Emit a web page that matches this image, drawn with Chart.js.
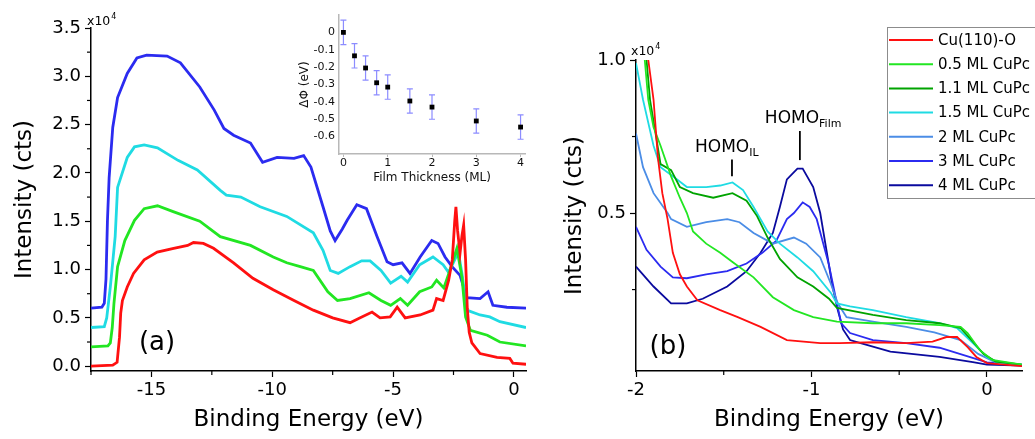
<!DOCTYPE html>
<html>
<head>
<meta charset="utf-8">
<script src="https://cdn.jsdelivr.net/npm/chart.js@4.4.0/dist/chart.umd.min.js"></script>
<style>
  body { margin: 0; background: #fff; }
  #wrap { position: relative; width: 1035px; height: 439px; overflow: hidden; }
  canvas { position: absolute; top: 0; }
  #chartA { left: 0; }
  #chartB { left: 530px; }
  #inset { left: 290px; }
</style>
</head>
<body>
<div id="wrap">
  <canvas id="chartA" width="530" height="439"></canvas>
  <canvas id="chartB" width="505" height="439"></canvas>
  <canvas id="inset" width="245" height="195"></canvas>
</div>
<script>
// panel (a): binding energy (eV) vs intensity (x10^4 cts), curves offset as in the figure
const aRedE = [-17.5, -16.6, -16.42, -16.32, -16.27, -16.2, -16.0, -15.74, -15.3, -14.76, -14.08, -13.5, -13.26, -12.85, -12.43, -11.6, -10.8, -9.96, -9.1, -8.3, -7.5, -6.78, -6.36, -5.87, -5.54, -5.12, -4.83, -4.5, -3.88, -3.35, -3.2, -2.93, -2.7, -2.55, -2.45, -2.4, -2.33, -2.23, -2.15, -2.08, -2.0, -1.93, -1.85, -1.74, -1.4, -0.7, -0.17, -0.04, 0.5];
const aRedI = [0, 0.01, 0.04, 0.3, 0.55, 0.68, 0.82, 0.96, 1.10, 1.18, 1.22, 1.25, 1.28, 1.27, 1.22, 1.07, 0.91, 0.79, 0.68, 0.58, 0.50, 0.45, 0.50, 0.56, 0.50, 0.51, 0.61, 0.50, 0.53, 0.58, 0.70, 0.68, 0.89, 1.10, 1.50, 1.65, 1.40, 1.17, 1.35, 1.46, 1.10, 0.60, 0.35, 0.24, 0.13, 0.09, 0.08, 0.03, 0.02];
const aGreenE = [-17.5, -16.8, -16.7, -16.62, -16.55, -16.4, -16.1, -15.7, -15.3, -14.75, -14.1, -13.0, -12.15, -10.9, -9.96, -9.4, -8.84, -8.3, -7.7, -7.3, -6.78, -6.0, -5.5, -5.1, -4.7, -4.4, -3.9, -3.4, -3.2, -2.9, -2.65, -2.36, -2.15, -2.0, -1.8, -1.1, -0.58, 0.5];
const aGreenI = [0.2, 0.21, 0.24, 0.4, 0.65, 1.03, 1.3, 1.51, 1.63, 1.66, 1.6, 1.5, 1.34, 1.25, 1.13, 1.07, 1.03, 0.99, 0.77, 0.68, 0.70, 0.76, 0.68, 0.63, 0.70, 0.63, 0.77, 0.82, 0.89, 0.81, 0.99, 1.22, 0.92, 0.51, 0.37, 0.32, 0.25, 0.21];
const aCyanE = [-17.5, -16.95, -16.85, -16.7, -16.5, -16.4, -16.0, -15.7, -15.3, -14.75, -13.9, -13.1, -12.15, -11.9, -11.3, -10.5, -9.4, -8.3, -7.9, -7.6, -7.27, -6.78, -6.3, -5.95, -5.5, -5.1, -4.67, -4.4, -3.9, -3.35, -2.93, -2.7, -2.3, -2.15, -1.95, -1.4, -1.0, -0.58, 0.5];
const aCyanI = [0.4, 0.41, 0.5, 0.82, 1.34, 1.85, 2.16, 2.27, 2.29, 2.26, 2.13, 2.03, 1.82, 1.77, 1.75, 1.65, 1.55, 1.38, 1.2, 0.99, 0.96, 1.03, 1.09, 1.09, 0.99, 0.86, 0.93, 0.87, 1.05, 1.13, 1.05, 0.97, 1.18, 0.96, 0.58, 0.53, 0.51, 0.46, 0.40];
const aBlueE = [-17.5, -17.05, -16.95, -16.88, -16.82, -16.75, -16.6, -16.4, -16.0, -15.6, -15.2, -14.35, -13.8, -13.0, -12.4, -12.0, -11.6, -10.9, -10.4, -9.8, -9.1, -8.7, -8.4, -7.9, -7.6, -7.4, -7.1, -6.9, -6.5, -6.1, -5.66, -5.25, -5.0, -4.63, -4.3, -3.88, -3.4, -3.14, -2.85, -2.56, -2.23, -1.95, -1.4, -1.07, -0.87, -0.29, 0.5];
const aBlueI = [0.6, 0.61, 0.65, 0.9, 1.5, 1.95, 2.47, 2.78, 3.03, 3.19, 3.22, 3.21, 3.14, 2.89, 2.65, 2.46, 2.39, 2.31, 2.11, 2.16, 2.15, 2.18, 2.06, 1.65, 1.40, 1.30, 1.42, 1.51, 1.67, 1.63, 1.34, 1.08, 1.05, 1.07, 0.96, 1.13, 1.30, 1.27, 1.13, 1.03, 0.94, 0.71, 0.70, 0.77, 0.63, 0.61, 0.60];

const aTicksX = [-15, -10, -5, 0];
const aMinorX = [-17.5, -12.5, -7.5, -2.5];
const aTicksY = [0, 0.5, 1.0, 1.5, 2.0, 2.5, 3.0, 3.5];
const aMinorY = [0.25, 0.75, 1.25, 1.75, 2.25, 2.75, 3.25];

// inset: work function change vs film thickness
const insetX = [0, 0.25, 0.5, 0.75, 1, 1.5, 2, 3, 4];
const insetY = [0, -0.135, -0.205, -0.29, -0.315, -0.395, -0.43, -0.51, -0.545];
const insetErr = [0.07, 0.07, 0.07, 0.07, 0.07, 0.07, 0.07, 0.07, 0.07];
const insetTicksX = [0, 1, 2, 3, 4];
const insetTicksY = [0, -0.1, -0.2, -0.3, -0.4, -0.5, -0.6];

// panel (b): near the Fermi level
const bLabels = ['Cu(110)-O', '0.5 ML CuPc', '1.1 ML CuPc', '1.5 ML CuPc', '2 ML CuPc', '3 ML CuPc', '4 ML CuPc'];
const bRedE = [-2.0, -1.93, -1.9, -1.875, -1.85, -1.82, -1.79, -1.75, -1.71, -1.65, -1.52, -1.42, -1.29, -1.14, -0.95, -0.84, -0.65, -0.46, -0.31, -0.23, -0.17, -0.11, -0.06, 0.0, 0.2];
const bRedI = [1.3, 1.0, 0.87, 0.68, 0.565, 0.48, 0.37, 0.30, 0.26, 0.215, 0.183, 0.16, 0.128, 0.085, 0.075, 0.075, 0.078, 0.075, 0.08, 0.095, 0.095, 0.062, 0.03, 0.01, 0.0];
const bG05E = [-2.0, -1.95, -1.93, -1.9, -1.86, -1.8, -1.75, -1.71, -1.675, -1.6, -1.52, -1.45, -1.33, -1.22, -1.1, -0.99, -0.855, -0.65, -0.46, -0.27, -0.15, -0.11, -0.04, 0.03, 0.2];
const bG05I = [1.3, 1.0, 0.87, 0.78, 0.72, 0.62, 0.55, 0.5, 0.44, 0.40, 0.37, 0.34, 0.29, 0.225, 0.183, 0.16, 0.145, 0.14, 0.14, 0.134, 0.128, 0.108, 0.052, 0.02, 0.005];
const bG11E = [-2.0, -1.94, -1.92, -1.88, -1.86, -1.8, -1.75, -1.675, -1.56, -1.45, -1.37, -1.31, -1.25, -1.18, -1.08, -0.99, -0.9, -0.855, -0.65, -0.46, -0.27, -0.15, -0.08, -0.02, 0.05, 0.2];
const bG11I = [1.3, 1.0, 0.87, 0.73, 0.66, 0.64, 0.585, 0.565, 0.55, 0.565, 0.54, 0.49, 0.42, 0.35, 0.29, 0.26, 0.22, 0.19, 0.167, 0.15, 0.14, 0.124, 0.08, 0.04, 0.015, 0.005];
const bCyanE = [-2.0, -1.96, -1.9, -1.86, -1.79, -1.71, -1.6, -1.52, -1.45, -1.39, -1.33, -1.29, -1.25, -1.18, -1.08, -0.99, -0.89, -0.855, -0.78, -0.65, -0.46, -0.27, -0.17, -0.08, 0.0, 0.07, 0.2];
const bCyanI = [0.99, 0.87, 0.72, 0.65, 0.62, 0.585, 0.585, 0.59, 0.60, 0.575, 0.52, 0.48, 0.44, 0.40, 0.355, 0.31, 0.24, 0.205, 0.195, 0.183, 0.16, 0.14, 0.124, 0.075, 0.03, 0.01, 0.005];
const bCornE = [-2.0, -1.96, -1.9, -1.82, -1.8, -1.71, -1.6, -1.48, -1.41, -1.33, -1.22, -1.1, -1.03, -0.95, -0.89, -0.85, -0.8, -0.65, -0.46, -0.3, -0.15, -0.05, 0.05, 0.2];
const bCornI = [0.76, 0.65, 0.565, 0.5, 0.48, 0.455, 0.47, 0.48, 0.47, 0.435, 0.40, 0.42, 0.40, 0.355, 0.27, 0.205, 0.16, 0.145, 0.128, 0.11, 0.085, 0.04, 0.012, 0.005];
const bBlueE = [-2.0, -1.94, -1.86, -1.79, -1.71, -1.6, -1.48, -1.37, -1.28, -1.2, -1.14, -1.1, -1.05, -1.01, -0.97, -0.9, -0.855, -0.83, -0.78, -0.65, -0.46, -0.27, -0.1, 0.0, 0.2];
const bBlueI = [0.455, 0.38, 0.325, 0.29, 0.287, 0.30, 0.31, 0.335, 0.37, 0.41, 0.48, 0.5, 0.535, 0.52, 0.48, 0.33, 0.205, 0.14, 0.108, 0.085, 0.075, 0.06, 0.03, 0.012, 0.003];
const bNavyE = [-2.0, -1.9, -1.8, -1.71, -1.62, -1.48, -1.37, -1.29, -1.22, -1.18, -1.14, -1.08, -1.05, -0.99, -0.95, -0.88, -0.85, -0.82, -0.78, -0.72, -0.55, -0.27, -0.08, 0.0, 0.2];
const bNavyI = [0.325, 0.26, 0.205, 0.205, 0.22, 0.26, 0.31, 0.37, 0.435, 0.52, 0.61, 0.645, 0.645, 0.585, 0.5, 0.26, 0.183, 0.12, 0.085, 0.075, 0.047, 0.03, 0.013, 0.005, 0.002];

const bTicksX = [-2, -1, 0];
const bMinorX = [-1.5, -0.5];
const bTicksY = [0.5, 1.0];
const bMinorY = [0.25, 0.75];

const FONT = '"DejaVu Sans", sans-serif';
Chart.defaults.font.family = FONT;
Chart.defaults.color = '#000';

const pts = (xs, ys) => xs.map((x, i) => ({ x, y: ys[i] }));

function curve(label, xs, ys, color, width) {
  return { label, data: pts(xs, ys), borderColor: color, backgroundColor: color,
           borderWidth: width, pointRadius: 0, tension: 0, fill: false };
}

function axis(min, max, tickVals, fmt, title, titlePad, size, horizontal) {
  return {
    type: 'linear', min, max,
    afterBuildTicks: s => { s.ticks = tickVals.map(v => ({ value: v })); },
    afterFit: s => { if (horizontal) s.height = size; else s.width = size; },
    border: { display: true, color: '#000', width: 1.5 },
    grid: { display: true, drawOnChartArea: false, drawTicks: true, tickLength: 6, tickWidth: 1.2, color: '#000' },
    ticks: { font: { size: 18 }, color: '#000', padding: horizontal ? 3 : 4, callback: fmt, autoSkip: false, maxRotation: 0 },
    title: { display: true, text: title, font: { size: 23 }, color: '#000', padding: titlePad }
  };
}

// short ticks between the labelled ones
const minorTicks = {
  id: 'minorTicks',
  afterDraw(chart, args, opts) {
    const { ctx, chartArea, scales } = chart;
    ctx.save();
    ctx.strokeStyle = '#000';
    ctx.lineWidth = 1.2;
    opts.x.forEach(v => {
      const px = scales.x.getPixelForValue(v);
      ctx.beginPath(); ctx.moveTo(px, chartArea.bottom); ctx.lineTo(px, chartArea.bottom + 4); ctx.stroke();
    });
    opts.y.forEach(v => {
      const py = scales.y.getPixelForValue(v);
      ctx.beginPath(); ctx.moveTo(chartArea.left, py); ctx.lineTo(chartArea.left - 4, py); ctx.stroke();
    });
    ctx.restore();
  }
};

function drawExp(ctx, x, y) {
  ctx.font = '12.5px ' + FONT;
  ctx.textAlign = 'left';
  ctx.textBaseline = 'alphabetic';
  ctx.fillText('x10', x, y);
  const w = ctx.measureText('x10').width;
  ctx.font = '8px ' + FONT;
  ctx.fillText('4', x + w + 1, y - 6);
}

const notesA = {
  id: 'notesA',
  afterDraw(chart) {
    const { ctx, chartArea } = chart;
    ctx.save();
    ctx.fillStyle = '#000';
    drawExp(ctx, chartArea.left - 4, chartArea.top - 3);
    ctx.font = '26px ' + FONT;
    ctx.textAlign = 'center';
    ctx.textBaseline = 'middle';
    ctx.fillText('(a)', 157, 343);
    ctx.restore();
  }
};

function homo(ctx, xs, ys, e, top, bottom, textY, main, sub, shift) {
  const px = xs.getPixelForValue(e);
  ctx.beginPath();
  ctx.moveTo(px, ys.getPixelForValue(top));
  ctx.lineTo(px, ys.getPixelForValue(bottom));
  ctx.stroke();
  const ty = ys.getPixelForValue(textY);
  ctx.font = '17px ' + FONT;
  ctx.fillText(main, px - shift, ty);
  const w = ctx.measureText(main).width;
  ctx.font = '11px ' + FONT;
  ctx.fillText(sub, px - shift + w, ty + 4);
}

const notesB = {
  id: 'notesB',
  afterDraw(chart) {
    const { ctx, chartArea, scales } = chart;
    ctx.save();
    ctx.fillStyle = '#000';
    drawExp(ctx, chartArea.left - 5, chartArea.top - 5);
    ctx.font = '26px ' + FONT;
    ctx.textAlign = 'center';
    ctx.textBaseline = 'middle';
    ctx.fillText('(b)', 138, 347);

    ctx.textAlign = 'left';
    ctx.textBaseline = 'alphabetic';
    ctx.strokeStyle = '#000';
    ctx.lineWidth = 1.8;
    homo(ctx, scales.x, scales.y, -1.453, 0.675, 0.62, 0.698, 'HOMO', 'IL', 37);
    homo(ctx, scales.x, scales.y, -1.066, 0.768, 0.673, 0.794, 'HOMO', 'Film', 35);

    // legend box
    const bx = 357, by = 27, bh = 171;
    ctx.fillStyle = '#fff';
    ctx.fillRect(bx, by, 160, bh);
    ctx.strokeStyle = '#8c8c8c';
    ctx.lineWidth = 1;
    ctx.strokeRect(bx + 0.5, by + 0.5, 160, bh);
    ctx.font = '15px ' + FONT;
    ctx.textBaseline = 'middle';
    chart.data.datasets.forEach((ds, i) => {
      const y = 40 + i * 24.2;
      ctx.strokeStyle = ds.borderColor;
      ctx.lineWidth = 2;
      ctx.beginPath(); ctx.moveTo(359, y); ctx.lineTo(403, y); ctx.stroke();
      ctx.fillStyle = '#000';
      ctx.fillText(ds.label, 408, y + 1);
    });
    ctx.restore();
  }
};

const errorBars = {
  id: 'errorBars',
  beforeDatasetsDraw(chart) {
    const { ctx, scales } = chart;
    ctx.save();
    ctx.strokeStyle = '#8c8cff';
    ctx.lineWidth = 1.2;
    insetX.forEach((v, i) => {
      const px = scales.x.getPixelForValue(v);
      const t = scales.y.getPixelForValue(insetY[i] + insetErr[i]);
      const b = scales.y.getPixelForValue(insetY[i] - insetErr[i]);
      ctx.beginPath();
      ctx.moveTo(px, t); ctx.lineTo(px, b);
      ctx.moveTo(px - 3, t); ctx.lineTo(px + 3, t);
      ctx.moveTo(px - 3, b); ctx.lineTo(px + 3, b);
      ctx.stroke();
    });
    ctx.restore();
  }
};

const noUi = { legend: { display: false }, tooltip: { enabled: false } };

new Chart(document.getElementById('chartA'), {
  type: 'line',
  data: {
    datasets: [
      curve('Cu(110)-O', aRedE, aRedI, '#ff1010', 2.8),
      curve('0.5 ML CuPc', aGreenE, aGreenI, '#22e622', 2.8),
      curve('1.5 ML CuPc', aCyanE, aCyanI, '#1fdbe3', 2.8),
      curve('3 ML CuPc', aBlueE, aBlueI, '#2b2bf0', 2.8)
    ]
  },
  options: {
    responsive: false,
    animation: false,
    layout: { padding: { top: 28, right: 4, left: 0, bottom: 0 } },
    scales: {
      x: axis(-17.5, 0.5, aTicksX, v => String(v), 'Binding Energy (eV)', { top: 0, bottom: 5 }, 68, true),
      y: axis(-0.05, 3.5, aTicksY, v => v.toFixed(1), 'Intensity (cts)', { top: 11, bottom: 0 }, 91, false)
    },
    plugins: Object.assign({ minorTicks: { x: aMinorX, y: aMinorY } }, noUi)
  },
  plugins: [minorTicks, notesA]
});

new Chart(document.getElementById('inset'), {
  type: 'line',
  data: {
    datasets: [{
      label: 'ΔΦ',
      data: pts(insetX, insetY),
      showLine: false,
      pointStyle: 'rect',
      pointRadius: 3.4,
      pointBackgroundColor: '#000',
      pointBorderColor: '#000',
      pointBorderWidth: 0
    }]
  },
  options: {
    responsive: false,
    animation: false,
    layout: { padding: { top: 15, right: 10, left: 0, bottom: 0 } },
    scales: {
      x: {
        type: 'linear', min: -0.1, max: 4.1,
        afterBuildTicks: s => { s.ticks = insetTicksX.map(v => ({ value: v })); },
        afterFit: s => { s.height = 41; },
        border: { display: true, color: '#b8b8b8', width: 1.5 },
        grid: { display: true, drawOnChartArea: false, tickLength: 3, color: '#b8b8b8' },
        ticks: { font: { size: 11 }, color: '#111', padding: 0, autoSkip: false, maxRotation: 0, callback: v => String(v) },
        title: { display: true, text: 'Film Thickness (ML)', font: { size: 12 }, color: '#111', padding: { top: 0, bottom: 10 } }
      },
      y: {
        type: 'linear', min: -0.7, max: 0.1,
        afterBuildTicks: s => { s.ticks = insetTicksY.map(v => ({ value: v })); },
        afterFit: s => { s.width = 49; },
        border: { display: true, color: '#b8b8b8', width: 1.5 },
        grid: { display: true, drawOnChartArea: false, drawTicks: false },
        ticks: { font: { size: 11 }, color: '#111', padding: 4, autoSkip: false, callback: v => (v === 0 ? '0' : v.toFixed(1)) },
        title: { display: true, text: 'ΔΦ (eV)', font: { size: 12 }, color: '#111', padding: { top: 8, bottom: 0 } }
      }
    },
    plugins: noUi
  },
  plugins: [errorBars]
});

new Chart(document.getElementById('chartB'), {
  type: 'line',
  data: {
    datasets: [
      curve(bLabels[0], bRedE, bRedI, '#ff1010', 1.8),
      curve(bLabels[1], bG05E, bG05I, '#22e622', 1.8),
      curve(bLabels[2], bG11E, bG11I, '#00a300', 1.8),
      curve(bLabels[3], bCyanE, bCyanI, '#1fdbe3', 1.8),
      curve(bLabels[4], bCornE, bCornI, '#4b8de6', 1.8),
      curve(bLabels[5], bBlueE, bBlueI, '#2b2bf0', 1.8),
      curve(bLabels[6], bNavyE, bNavyI, '#0a0a9e', 1.8)
    ]
  },
  options: {
    responsive: false,
    animation: false,
    layout: { padding: { top: 60, right: 13, left: 0, bottom: 0 } },
    scales: {
      x: axis(-2, 0.2, bTicksX, v => String(v), 'Binding Energy (eV)', { top: 0, bottom: 5 }, 68, true),
      y: axis(-0.016, 1.0, bTicksY, v => v.toFixed(1), 'Intensity (cts)', { top: 31, bottom: 0 }, 106, false)
    },
    plugins: Object.assign({ minorTicks: { x: bMinorX, y: bMinorY } }, noUi)
  },
  plugins: [minorTicks, notesB]
});
</script>
</body>
</html>
